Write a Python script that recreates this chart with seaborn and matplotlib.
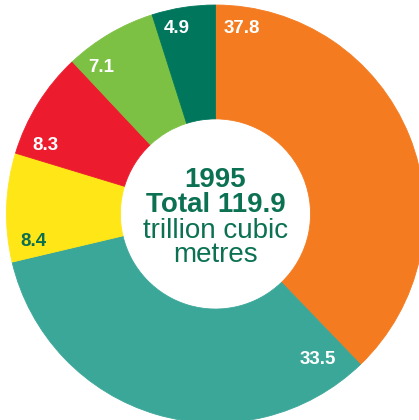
import numpy as np
import matplotlib
matplotlib.use("Agg")
import matplotlib.pyplot as plt
import seaborn as sns

# Daten: Anteile (Reihenfolge im Uhrzeigersinn ab 12 Uhr)
values = [37.8, 33.5, 8.4, 8.3, 7.1, 4.9]
labels = ["37.8", "33.5", "8.4", "8.3", "7.1", "4.9"]
colors = ["#F47B20", "#3BA799", "#FFE617", "#EC1C2E", "#7CC143", "#00775C"]
label_colors = ["white", "white", "#0A6E50", "white", "white", "white"]
center_lines = ["1995", "Total 119.9", "trillion cubic", "metres"]

# Lage der Beschriftungen innerhalb des Segments (Anteil des Winkels, Radius)
label_frac = [0.941, 0.927, 0.847, 0.832, 0.793, 0.663]
label_rad = [0.897, 0.854, 0.882, 0.877, 0.891, 0.907]

sns.set_theme(style="white")
plt.rcParams["font.family"] = ["Liberation Sans", "DejaVu Sans"]

fig = plt.figure(figsize=(4.19, 4.20), dpi=100)
ax = fig.add_axes([0, 0, 1, 1])

wedges, _ = ax.pie(values, colors=colors, startangle=90, counterclock=False,
                   radius=1.0, wedgeprops=dict(width=0.545, linewidth=0))
for w, c in zip(wedges, colors):
    w.set_edgecolor(c)
    w.set_linewidth(0.6)

for w, lab, col, f, r in zip(wedges, labels, label_colors, label_frac, label_rad):
    ang = np.deg2rad(w.theta1 + f * (w.theta2 - w.theta1))
    ax.text(r * np.cos(ang), r * np.sin(ang), lab, ha="center", va="center",
            color=col, fontsize=13.5, fontweight="bold")

# Text in der Mitte
dark = "#0B7152"
ys = [0.128, 0.008, -0.115, -0.23]
for txt, y, wt in zip(center_lines, ys, ["bold", "bold", "normal", "normal"]):
    ax.text(0.0, y, txt, ha="center", va="baseline", color=dark,
            fontsize=20, fontweight=wt)

ax.set_xlim(-1.031, 0.974)
ax.set_ylim(-0.986, 1.024)
ax.set_aspect("auto")
ax.axis("off")

fig.savefig("out.png", dpi=100, facecolor="white")
